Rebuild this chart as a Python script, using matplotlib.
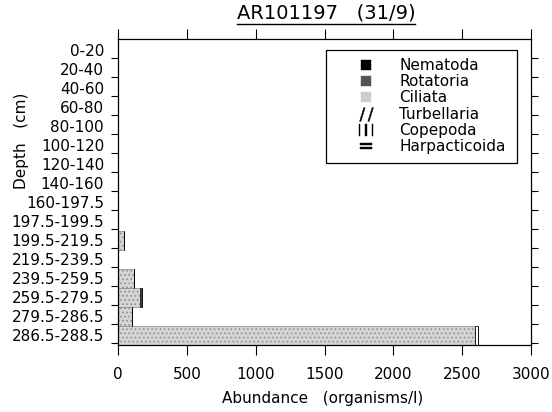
import numpy as np
import matplotlib
matplotlib.use("Agg")
import matplotlib.pyplot as plt
from matplotlib.patches import Rectangle
from matplotlib.lines import Line2D

plt.rcParams['font.family'] = ['DejaVu Sans']
plt.rcParams['hatch.linewidth'] = 0.6

depths = ["0-20", "20-40", "40-60", "60-80", "80-100", "100-120", "120-140",
          "140-160", "160-197.5", "197.5-199.5", "199.5-219.5", "219.5-239.5",
          "239.5-259.5", "259.5-279.5", "279.5-286.5", "286.5-288.5"]

series_names = ["Nematoda", "Rotatoria", "Ciliata", "Turbellaria", "Copepoda", "Harpacticoida"]

nematoda      = [0, 0, 0, 0, 0, 0, 0, 0, 0, 0, 0, 0, 0, 0, 0, 0]
rotatoria     = [0, 0, 0, 0, 0, 0, 0, 0, 0, 0, 0, 0, 0, 0, 0, 0]
ciliata       = [0, 0, 0, 0, 0, 0, 0, 0, 0, 0, 45, 0, 115, 160, 100, 2590]
turbellaria   = [0, 0, 0, 0, 0, 0, 0, 0, 0, 0, 0, 0, 0, 0, 0, 0]
copepoda      = [0, 0, 0, 0, 0, 0, 0, 0, 0, 0, 0, 0, 0, 15, 0, 25]
harpacticoida = [0, 0, 0, 0, 0, 0, 0, 0, 0, 0, 0, 0, 0, 0, 0, 0]

x_ticks = [0, 500, 1000, 1500, 2000, 2500, 3000]

styles = {
    "Nematoda":      dict(facecolor="black", edgecolor="black", hatch=None),
    "Rotatoria":     dict(facecolor="#5a5a5a", edgecolor="black", hatch="xxxx"),
    "Ciliata":       dict(facecolor="#d4d4d4", edgecolor="#8a8a8a", hatch="...."),
    "Turbellaria":   dict(facecolor="white", edgecolor="black", hatch="//"),
    "Copepoda":      dict(facecolor="white", edgecolor="black", hatch="|||"),
    "Harpacticoida": dict(facecolor="white", edgecolor="black", hatch="--"),
}
legend_markers = {
    "Nematoda":      dict(marker="s", color="black", ms=7),
    "Rotatoria":     dict(marker="s", color="#555555", ms=7),
    "Ciliata":       dict(marker="s", color="#cccccc", ms=7),
    "Turbellaria":   dict(marker=r"$/\,/$", color="black", ms=10),
    "Copepoda":      dict(marker=r"$|\,|\,|$", color="black", ms=10),
    "Harpacticoida": dict(marker=r"$=$", color="black", ms=9),
}

W, H = 552, 412
fig = plt.figure(figsize=(W / 100, H / 100), dpi=100)
ax = fig.add_axes([118 / W, 1 - 345 / H, (531 - 118) / W, (345 - 39) / H])

ypos = np.arange(len(depths))
left = np.zeros(len(depths))
all_series = [nematoda, rotatoria, ciliata, turbellaria, copepoda, harpacticoida]
for name, vals in zip(series_names, all_series):
    vals = np.array(vals, dtype=float)
    st = styles[name]
    ax.barh(ypos, vals, left=left, height=0.95, facecolor=st["facecolor"],
            edgecolor=st["edgecolor"], hatch=st["hatch"], linewidth=0.5)
    left += vals

ax.set_xlim(0, 3000)
ax.set_ylim(15.5, -0.605)

ax.set_xticks(x_ticks)
ax.set_xticklabels([str(v) for v in x_ticks], fontsize=11)
ax.tick_params(axis='x', which='major', direction='out', length=7, width=0.8,
               top=True, bottom=True, labeltop=False, pad=9)

ax.set_yticks(ypos + 0.42)
ax.set_yticklabels([])
ax.set_yticks(ypos, minor=True)
ax.set_yticklabels(depths, minor=True, fontsize=11)
ax.tick_params(axis='y', which='major', direction='out', length=5, width=0.8,
               left=True, right=True)
ax.tick_params(axis='y', which='minor', length=0, pad=10)

for sp in ax.spines.values():
    sp.set_linewidth(0.9)

fig.text(22 / W, 1 - 141 / H, "Depth   (cm)", rotation=90, ha='center', va='center', fontsize=11)
fig.text(323 / W, 1 - 398 / H, "Abundance   (organisms/l)", ha='center', va='center', fontsize=11)

title = fig.text(326 / W, 1 - 13 / H, "AR101197   (31/9)", ha='center', va='center', fontsize=14)

# legend
handles = [Line2D([], [], linestyle='none', marker=legend_markers[n]["marker"],
                  color=legend_markers[n]["color"], markersize=legend_markers[n]["ms"],
                  markeredgewidth=0.3)
           for n in series_names]
fig.patches.append(Rectangle((326 / W, 1 - 163 / H), (517 - 326) / W, (163 - 50) / H,
                             transform=fig.transFigure, facecolor='white',
                             edgecolor='black', linewidth=0.9, zorder=3))
leg = fig.legend(handles, series_names, loc='upper left',
                 bbox_to_anchor=(362 / W, 1 - 58 / H), frameon=False,
                 fontsize=11, handlelength=0.55, handleheight=0.55,
                 handletextpad=1.9, labelspacing=0.08, borderpad=0, borderaxespad=0)
leg.set_zorder(5)

fig.canvas.draw()
bb = title.get_window_extent()
fig.add_artist(Line2D([bb.x0, bb.x1], [bb.y0 - 1, bb.y0 - 1], transform=None,
                      color='black', linewidth=1.0))

fig.savefig("out.png", dpi=100)
